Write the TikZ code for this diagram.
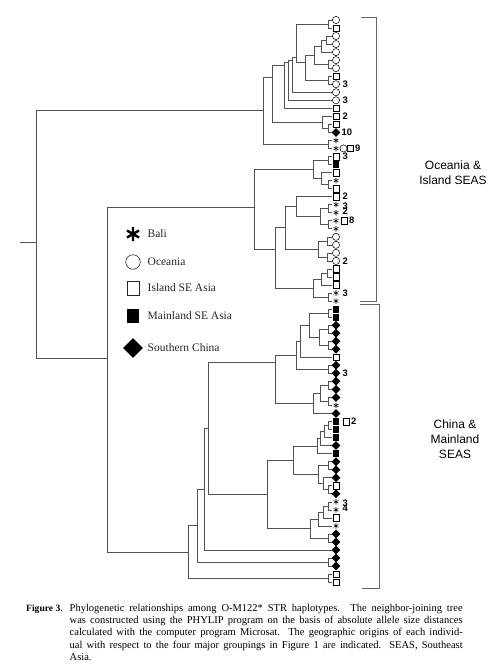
\documentclass[tikz,border=0pt]{standalone}
\usepackage{fontspec}
\setmainfont{Liberation Serif}
\newfontfamily\lsans{Liberation Sans}
\usetikzlibrary{calc}
\newcommand\cl[4]{\path let \p1=(#3), \p2=(#4) in coordinate (#1) at (#2pt,{(\y1+\y2)/2});
  \draw[br] (#3) -| (#1); \draw[br] (#4) -| (#1);}
\newcommand\cly[5]{\coordinate (#1) at (#2,#3);
  \draw[br] (#4) -| (#1); \draw[br] (#5) -| (#1);}
\begin{document}
\begin{tikzpicture}[x=1pt,y=-1pt,
  br/.style={draw=black!68,line width=0.6pt},
  brk/.style={draw=black!60,line width=0.6pt},
  oc/.style={circle,draw=black,line width=0.5pt,inner sep=0pt,minimum size=7.2pt},
  isq/.style={rectangle,draw=black,line width=0.5pt,inner sep=0pt,minimum width=6pt,minimum height=6.5pt},
  msq/.style={rectangle,fill=black,inner sep=0pt,minimum width=6.5pt,minimum height=7pt},
  dia/.style={rectangle,fill=black,inner sep=0pt,minimum size=6.2pt,rotate=45},
  bal/.style={rectangle,inner sep=0pt,minimum size=6.4pt,
    path picture={\draw[line width=0.55pt] (path picture bounding box.center) +(90:2.8pt) -- +(270:2.8pt) +(30:2.8pt) -- +(210:2.8pt) +(150:2.8pt) -- +(330:2.8pt);}},
  bigbal/.style={rectangle,inner sep=0pt,minimum size=17pt,
    path picture={\draw[line width=2.4pt] (path picture bounding box.center) +(90:7pt) -- +(270:7pt) +(30:7pt) -- +(210:7pt) +(150:7pt) -- +(330:7pt);}},
  num/.style={anchor=west,inner sep=0pt,font=\lsans\bfseries\fontsize{9.4}{9.4}\selectfont},
  lt/.style={anchor=west,inner sep=0pt,text=black!85,font=\fontsize{11.5}{13}\selectfont},
  grp/.style={inner sep=0pt,font=\lsans\fontsize{12}{14}\selectfont},
  capl/.style={anchor=base west,inner sep=0pt,font=\fontsize{10.5}{12}\selectfont}]
\useasboundingbox (0,0) rectangle (493,669);
% leaves
\foreach \i in {1,...,71}{\coordinate (L\i) at (332,{20+8.03*(\i-1)});}
% top clade A
\cl{p12}{328}{L1}{L2}
\cl{p34}{326}{L3}{L4}
\cl{A9}{321}{p34}{L5}
\cl{p67}{328}{L6}{L7}
\cl{A8}{314}{A9}{p67}
\cl{p89}{328}{L8}{L9}
\cly{A7}{305}{62}{A8}{p89}
\cly{A6}{296}{57}{p12}{A7}
\cly{A5}{292}{60}{A6}{L10}
\cly{A4}{288}{62}{A5}{L11}
\cly{A2}{284}{65}{A4}{L12}
\cl{p1415}{328}{L14}{L15}
\cl{A3}{322}{L13}{p1415}
\cly{A1}{272}{77}{A2}{A3}
\cl{p1617}{328}{L16}{L17}
\cl{A}{263}{A1}{p1617}
% clade C
\cl{p1819}{328}{L18}{L19}
\cl{p2122}{328}{L21}{L22}
\cl{C1b}{321}{L20}{p2122}
\cl{C1}{313}{p1819}{C1b}
\cl{p2425}{328}{L24}{L25}
\cl{p2627}{328}{L26}{L27}
\cl{C3y}{320}{p2425}{p2627}
\cl{C3x}{296}{L23}{C3y}
\cl{p2829}{327}{L28}{L29}
\cl{p3031}{327}{L30}{L31}
\cl{C3c}{318}{p2829}{p3031}
\cl{C3}{285}{C3x}{C3c}
\cl{p3233}{327}{L32}{L33}
\cl{C4a}{321}{p3233}{L34}
\cl{p3536}{328}{L35}{L36}
\cl{C4}{313}{C4a}{p3536}
\cly{C2}{275}{249}{C3}{C4}
\cly{C}{254}{207}{C1}{C2}
% clade D
\cl{p3738}{328}{L37}{L38}
\cl{p3940}{328}{L39}{L40}
\cl{p4142}{328}{L41}{L42}
\cl{D4a2}{319}{p3940}{p4142}
\cl{D4a1}{309}{p3738}{D4a2}
\cl{D4a0}{300}{D4a1}{L43}
\cl{p4445}{328}{L44}{L45}
\cl{D4a}{296}{D4a0}{p4445}
\cl{p4647}{328}{L46}{L47}
\cl{p4849}{328}{L48}{L49}
\cl{D4d}{320}{p4647}{p4849}
\cl{D4b}{313}{D4d}{L50}
\cly{D4}{275}{362}{D4a}{D4b}
\cl{p5152}{328}{L51}{L52}
\cl{D5g}{324}{p5152}{L53}
\cl{D5f}{320}{D5g}{L54}
\cl{D5e}{317}{D5f}{L55}
\cl{p5657}{328}{L56}{L57}
\cl{p5960}{328}{L59}{L60}
\cl{D5d}{323}{L58}{p5960}
\cl{D5c}{318}{p5657}{D5d}
\cl{D5a}{293}{D5e}{D5c}
\cl{p6162}{328}{L61}{L62}
\cl{D5i}{323}{p6162}{L63}
\cl{D5h}{318}{D5i}{L64}
\cl{p6566}{328}{L65}{L66}
\cl{D5b}{310}{D5h}{p6566}
\cl{D5}{267}{D5a}{D5b}
\cl{D3}{208}{D4}{D5}
\cl{D2}{204}{D3}{L67}
\cl{p6869}{328}{L68}{L69}
\cl{D1}{197}{D2}{p6869}
\cl{p7071}{328}{L70}{L71}
\cl{D}{188}{D1}{p7071}
\cly{B}{107}{358}{C}{D}
\cly{root}{36}{242}{A}{B}
\coordinate (stub) at (20,242);
\draw[br] (stub) -- (root);
% leaf symbols
\foreach \i/\t in {1/oc,2/isq,3/oc,4/oc,5/oc,6/oc,7/oc,8/isq,9/oc,10/oc,11/oc,12/isq,13/isq,14/isq,15/dia,16/bal,17/bal,18/isq,19/msq,20/isq,21/bal,22/isq,23/isq,24/bal,25/bal,26/bal,27/bal,28/oc,29/oc,30/oc,31/oc,32/isq,33/isq,34/isq,35/bal,36/bal,37/msq,38/msq,39/dia,40/dia,41/dia,42/dia,43/isq,44/dia,45/dia,46/dia,47/dia,48/dia,49/bal,50/dia,51/msq,52/msq,53/msq,54/dia,55/msq,56/dia,57/dia,58/dia,59/isq,60/dia,61/bal,62/bal,63/isq,64/bal,65/dia,66/dia,67/dia,68/dia,69/dia,70/isq,71/isq}
  {\node[\t] (s\i) at ([xshift=4pt]L\i) {};}
\node[oc] (s17b) at ([xshift=11.5pt]L17) {};
\node[isq] (s17c) at ([xshift=18.5pt]L17) {};
\node[isq] (s26b) at ([xshift=12pt]L26) {};
\node[isq] (s51b) at ([xshift=14pt]L51) {};
% counts
\foreach \i/\v/\s/\u in {9/3/10.5pt/0pt,11/3/10.5pt/0pt,13/2/10.5pt/0pt,15/10/9.5pt/0pt,17/9/23pt/0pt,18/3/10.5pt/0pt,23/2/10.5pt/0pt,24/3/10.5pt/-1.6pt,25/2/10.5pt/1.6pt,26/8/17pt/0pt,31/2/10.5pt/0pt,35/3/10.5pt/0pt,45/3/10.5pt/0pt,51/2/19pt/0pt,61/3/10.5pt/-1.6pt,62/4/10.5pt/1.6pt}
  {\node[num] (n\i) at ([xshift=\s,yshift=\u]L\i) {\v};}
% brackets
\coordinate (b1a) at (361,17); \coordinate (b1b) at (376,17);
\coordinate (b1c) at (376,301); \coordinate (b1d) at (360,301);
\draw[brk] (b1a) -- (b1b) -- (b1c) -- (b1d);
\coordinate (b2a) at (360,304); \coordinate (b2b) at (379,304);
\coordinate (b2c) at (379,588); \coordinate (b2d) at (362,588);
\draw[brk] (b2a) -- (b2b) -- (b2c) -- (b2d);
\node[grp] (g1a) at (453,165) {Oceania \&};
\node[grp] (g1b) at (453,180) {Island SEAS};
\node[grp] (g2a) at (455,424) {China \&};
\node[grp] (g2b) at (455,439) {Mainland};
\node[grp] (g2c) at (455,454) {SEAS};
% legend
\node[bigbal] (k1) at (133,234) {};
\node[lt] (t1) at (147.5,234) {Bali};
\node[circle,draw=black!85,line width=0.6pt,inner sep=0pt,minimum size=14.5pt] (k2) at (133,262) {};
\node[lt] (t2) at (147.5,262) {Oceania};
\node[rectangle,draw=black!85,line width=0.6pt,inner sep=0pt,minimum width=12pt,minimum height=14pt] (k3) at (133,288) {};
\node[lt] (t3) at (147.5,288) {Island SE Asia};
\node[rectangle,fill=black,inner sep=0pt,minimum width=12.5pt,minimum height=14pt] (k4) at (133,316) {};
\node[lt] (t4) at (147.5,316) {Mainland SE Asia};
\node[rectangle,fill=black,inner sep=0pt,minimum size=14pt,rotate=45] (k5) at (133,348) {};
\node[lt] (t5) at (147.5,348) {Southern China};
% caption
\node[capl,font=\bfseries\fontsize{9.6}{12}\selectfont] (fig) at (26,611) {Figure 3.};
\node[capl] (c1) at (69.5,611) {\makebox[393pt][s]{Phylogenetic relationships among O-M122* STR haplotypes. The neighbor-joining tree}};
\node[capl] (c2) at (69.5,623.4) {\makebox[393pt][s]{was constructed using the PHYLIP program on the basis of absolute allele size distances}};
\node[capl] (c3) at (69.5,635.8) {\makebox[393pt][s]{calculated with the computer program Microsat. The geographic origins of each individ-}};
\node[capl] (c4) at (69.5,648.2) {\makebox[393pt][s]{ual with respect to the four major groupings in Figure 1 are indicated. SEAS, Southeast}};
\node[capl] (c5) at (69.5,660.6) {Asia.};
\end{tikzpicture}
\end{document}
